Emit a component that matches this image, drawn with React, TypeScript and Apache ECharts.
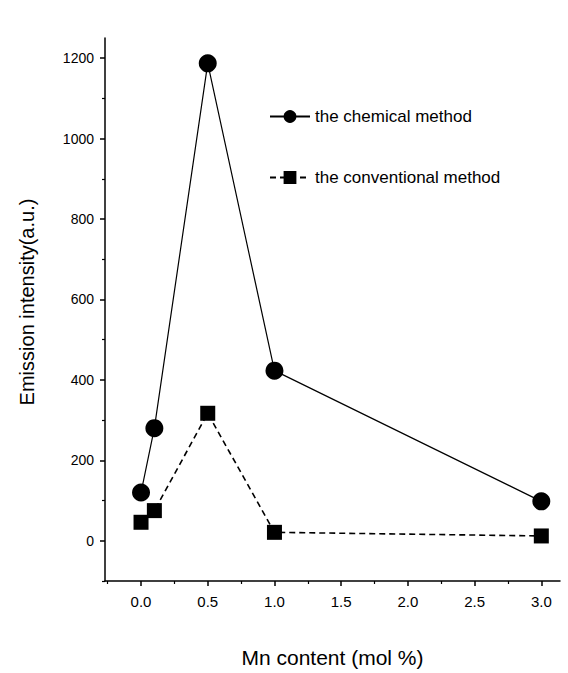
import React, { useEffect, useRef } from "react";
import * as echarts from "echarts";

const mnContent = [0, 0.1, 0.5, 1.0, 3.0];
const chemicalMethod = [120, 280, 1187, 423, 98];
const conventionalMethod = [46, 75, 317, 21, 12];
const xMajorTicks = [0, 0.5, 1.0, 1.5, 2.0, 2.5, 3.0];
const xMinorTicks = [-0.25, 0.25, 0.75, 1.25, 1.75, 2.25, 2.75];
const yMajorTicks = [0, 200, 400, 600, 800, 1000, 1200];
const yMinorTicks = [-100, 100, 300, 500, 700, 900, 1100];

const FONT = "Liberation Sans, Arial, sans-serif";

export default function App() {
  const ref = useRef<HTMLDivElement>(null);
  useEffect(() => {
    if (!ref.current) return;
    const chart = echarts.init(ref.current, undefined, { renderer: "svg" });
    const xMin = -0.27, xMax = 3.14, yMin = -100, yMax = 1250;
    const axisLine = { show: true, onZero: false, lineStyle: { color: "#000", width: 1.5 } };
    chart.setOption({
      animation: false,
      backgroundColor: "#fff",
      textStyle: { fontFamily: FONT },
      grid: { left: 105, right: 8, top: 38, bottom: 86, containLabel: false },
      legend: {
        orient: "vertical",
        left: 264,
        top: 103,
        itemGap: 44,
        itemWidth: 40,
        itemHeight: 16,
        textStyle: { fontFamily: FONT, fontSize: 17, color: "#000" },
        data: ["the chemical method", "the conventional method"],
      },
      graphic: [
        {
          type: "text",
          x: 27,
          y: 302,
          rotation: Math.PI / 2,
          style: {
            text: "Emission intensity(a.u.)",
            fontFamily: FONT,
            fontSize: 20,
            fill: "#000",
            align: "center",
            verticalAlign: "middle",
          },
        },
      ],
      xAxis: [
        {
          type: "value", min: xMin, max: xMax,
          name: "Mn content (mol %)", nameLocation: "middle", nameGap: 66,
          nameTextStyle: { fontFamily: FONT, fontSize: 21, color: "#000" },
          axisLine,
          splitLine: { show: false },
          axisTick: { show: true, length: 5, customValues: xMajorTicks, lineStyle: { color: "#000", width: 1.5 } },
          axisLabel: { customValues: xMajorTicks, fontFamily: FONT, fontSize: 15, color: "#000", margin: 13,
            formatter: (v: number) => v.toFixed(1) },
        },
        {
          type: "value", min: xMin, max: xMax, position: "bottom",
          axisLine: { show: false, onZero: false },
          splitLine: { show: false },
          axisTick: { show: true, length: 3, customValues: xMinorTicks, lineStyle: { color: "#000", width: 1.2 } },
          axisLabel: { show: false },
        },
      ],
      yAxis: [
        {
          type: "value", min: yMin, max: yMax,
          axisLine,
          splitLine: { show: false },
          axisTick: { show: true, length: 5, customValues: yMajorTicks, lineStyle: { color: "#000", width: 1.5 } },
          axisLabel: { customValues: yMajorTicks, fontFamily: FONT, fontSize: 14, color: "#000", margin: 11,
            formatter: (v: number) => String(v) },
        },
        {
          type: "value", min: yMin, max: yMax, position: "left",
          axisLine: { show: false, onZero: false },
          splitLine: { show: false },
          axisTick: { show: true, length: 3, customValues: yMinorTicks, lineStyle: { color: "#000", width: 1.2 } },
          axisLabel: { show: false },
        },
      ],
      series: [
        {
          name: "the chemical method",
          type: "line",
          data: mnContent.map((x, i) => [x, chemicalMethod[i]]),
          symbol: "circle",
          symbolSize: 18,
          itemStyle: { color: "#000" },
          lineStyle: { color: "#000", width: 1.2, type: "solid" },
        },
        {
          name: "the conventional method",
          type: "line",
          data: mnContent.map((x, i) => [x, conventionalMethod[i]]),
          symbol: "rect",
          symbolSize: 15,
          itemStyle: { color: "#000" },
          lineStyle: { color: "#000", width: 1.6, type: [6, 4] },
        },
      ],
    });
    return () => chart.dispose();
  }, []);
  return (
    <div
      ref={ref}
      style={{ position: "fixed", left: 0, top: 0, width: 568, height: 673, background: "#fff" }}
    />
  );
}
